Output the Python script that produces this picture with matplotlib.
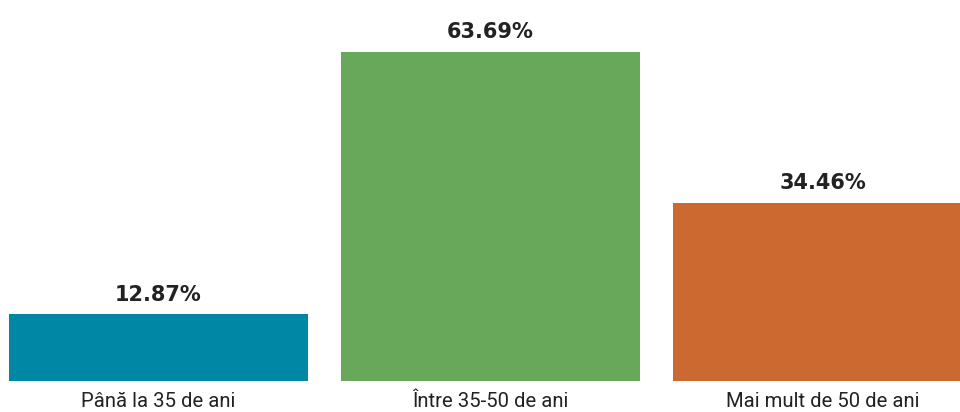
import matplotlib
matplotlib.use("Agg")
import matplotlib.pyplot as plt

categories = ["Până la 35 de ani", "Între 35-50 de ani", "Mai mult de 50 de ani"]
values = [12.87, 63.69, 34.46]
colors = ["#0087A6", "#67A85A", "#CB6930"]

fig = plt.figure(figsize=(9.6, 4.12), dpi=100)
ax = fig.add_axes([0, 0, 1, 1])

x = list(range(len(categories)))
ax.bar(x, values, width=0.9006, color=colors)

for xi, v, cat in zip(x, values, categories):
    ax.text(xi, v + 2.57, f"{v:.2f}%", ha="center", va="baseline",
            fontsize=15, fontweight="bold", family="DejaVu Sans", color="#222222")
    ax.text(xi, -5.0, cat, ha="center", va="baseline",
            fontsize=14.6, family="Roboto", color="#222222")

ax.set_xlim(-0.4774, 2.4142)
ax.set_ylim(-6.06, 73.69)
ax.axis("off")

fig.savefig("out.png", dpi=100)
